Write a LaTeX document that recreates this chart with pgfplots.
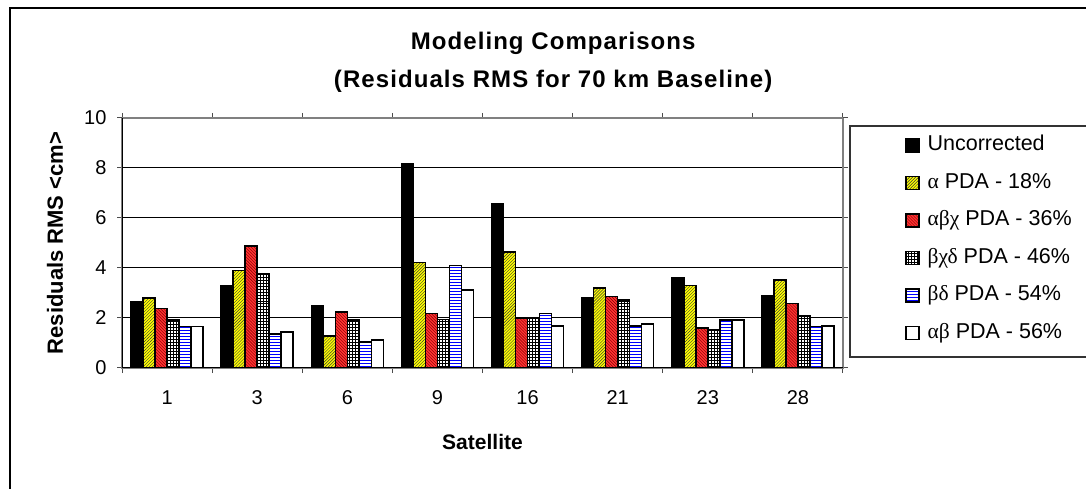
\documentclass[border=0pt]{standalone}
\usepackage{pgfplots}
\pgfplotsset{compat=1.18}
\usepackage{pgfplotstable}
\usetikzlibrary{patterns}
\usepackage{fontspec}
\setmainfont{Liberation Sans}
\newfontfamily\grk{Liberation Serif}
\definecolor{xlyellow}{RGB}{255,255,0}
\definecolor{xlred}{RGB}{255,51,51}

\pgfplotstableread{
x u a abc bcd bd ab
0 2.65 2.80 2.39 1.92 1.67 1.67
1 3.31 3.91 4.88 3.77 1.36 1.44
2 2.51 1.28 2.24 1.92 1.04 1.12
3 8.19 4.23 2.17 1.95 4.09 3.12
4 6.57 4.64 1.99 2.01 2.17 1.68
5 2.83 3.20 2.87 2.72 1.68 1.76
6 3.63 3.29 1.60 1.53 1.92 1.92
7 2.91 3.52 2.59 2.08 1.67 1.68
}\datatable

\pgfplotsset{
  mybar/.style={draw=black, line width=1.4bp,
    legend image code/.code={\draw[##1, line width=1.4bp] (0bp,-6.5bp) rectangle (13bp,6.5bp);}},
}

\begin{document}
\begin{tikzpicture}
\path[use as bounding box] (0,0) rectangle (1086bp,489bp);
\begin{scope}
\clip (0,0) rectangle (1086bp,489bp);
\draw[line width=1.2bp] (10bp,-20bp) rectangle (1120bp,481bp);
\draw[line width=1.2bp, black!80] (850bp,132bp) rectangle (1120bp,363bp);
\end{scope}
\begin{axis}[
  at={(122bp,121bp)}, anchor=south west,
  scale only axis, width=721bp, height=250bp,
  xmin=-0.5, xmax=7.5, ymin=0, ymax=10,
  ybar=0pt, bar width=12bp,
  xtick={-0.5,0.5,1.5,2.5,3.5,4.5,5.5,6.5,7.5},
  xticklabels={,,,,,,,,},
  extra x ticks={0,1,2,3,4,5,6,7},
  extra x tick labels={1,3,6,9,16,21,23,28},
  extra x tick style={major tick length=0pt, grid=none},
  ytick={0,2,4,6,8},
  extra y ticks={10},
  extra y tick style={grid=none},
  ymajorgrids,
  grid style={black, line width=1bp},
  tick align=outside, major tick length=5bp,
  tick style={black!70, line width=1bp},
  axis line style={gray, line width=1.2bp},
  tick label style={font=\fontsize{20bp}{22bp}\selectfont},
  /pgf/number format/assume math mode=true,
  xticklabel style={yshift=-19bp},
  yticklabel style={xshift=-7bp},
  xlabel={Satellite}, ylabel={Residuals RMS <cm>},
  xlabel style={at={(axis description cs:0.5,-0.296)}, anchor=center, font=\bfseries\fontsize{21bp}{24bp}\selectfont},
  ylabel style={at={(axis description cs:-0.093,0.5)}, anchor=center, font=\bfseries\fontsize{22bp}{24bp}\selectfont},
  title={Modeling Comparisons\\(Residuals RMS for 70 km Baseline)},
  title style={at={(axis description cs:0.598,1.200)}, anchor=center, align=center, font=\bfseries\fontsize{24bp}{38bp}\selectfont\addfontfeatures{LetterSpace=4.5}},
  legend style={draw=none, fill=none, at={(axis description cs:1.086,0.929)}, anchor=north west,
    inner sep=0pt, row sep=18.5bp, nodes={inner sep=0pt, text height=15bp, text depth=4bp},
    /tikz/every odd column/.append style={column sep=8bp},
    font=\fontsize{21.5bp}{24bp}\selectfont},
  legend cell align=left,
]
\addplot[mybar, fill=black] table[x=x, y=u] {\datatable};
\addplot[mybar, fill=xlyellow, postaction={pattern=north east lines, pattern color=black!80}] table[x=x, y=a] {\datatable};
\addplot[mybar, fill=xlred, postaction={pattern=north west lines, pattern color=red!50!black}] table[x=x, y=abc] {\datatable};
\addplot[mybar, fill=white, postaction={pattern=grid, pattern color=black}] table[x=x, y=bcd] {\datatable};
\addplot[mybar, fill=white, postaction={pattern=horizontal lines, pattern color=blue}] table[x=x, y=bd] {\datatable};
\addplot[mybar, fill=white] table[x=x, y=ab] {\datatable};
\legend{Uncorrected, {\grk α} PDA - 18\%, {\grk αβχ} PDA - 36\%, {\grk βχδ} PDA - 46\%, {\grk βδ} PDA - 54\%, {\grk αβ} PDA - 56\%}
\draw[black, line width=1.2bp] (rel axis cs:0,0) -- (rel axis cs:0,1);
\draw[black, line width=1.2bp] (rel axis cs:0,0) -- (rel axis cs:1,0);
\end{axis}
\end{tikzpicture}
\end{document}
